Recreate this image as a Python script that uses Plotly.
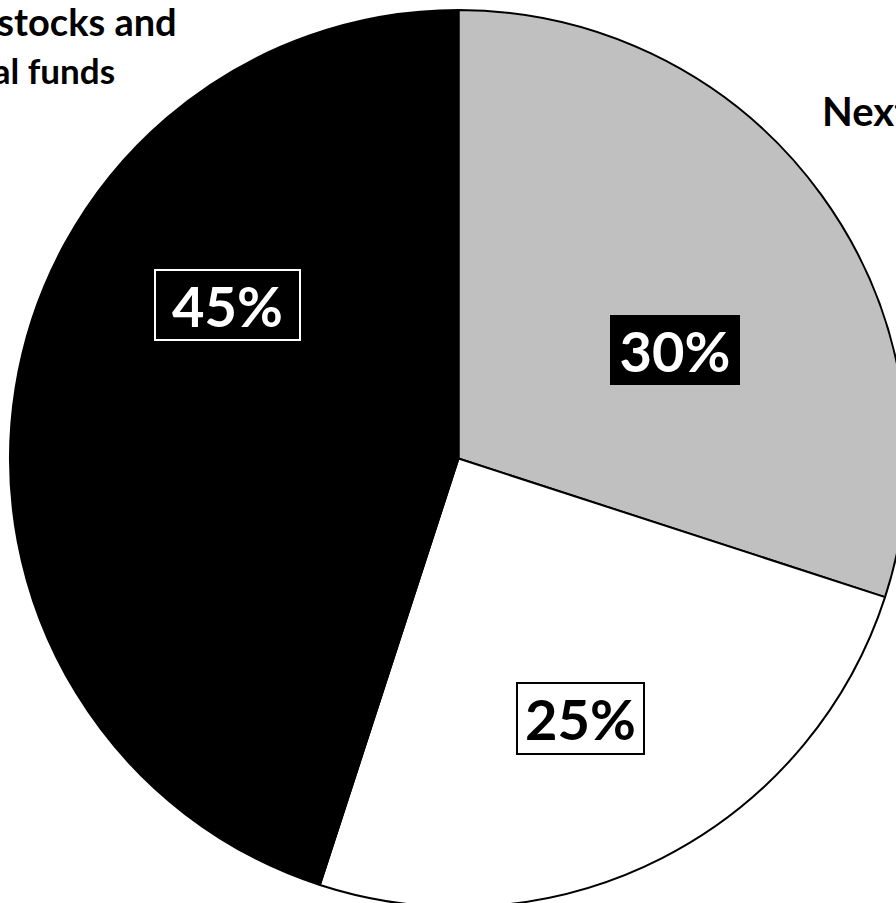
import plotly.graph_objects as go

# Portfolio split
labels = ["Next year", "Other", "Individual stocks and mutual funds"]
values = [30, 25, 45]
colors = ["#c0c0c0", "#ffffff", "#000000"]

W, H = 917, 917
ML, MT = 10, 10
PW, PH = W - 2 * ML, H - 2 * MT

FONT = "Lato, 'Open Sans', sans-serif"


def px(x):
    return (x - ML) / PW


def py(y):
    return 1 - (y - MT) / PH


fig = go.Figure(
    go.Pie(
        labels=labels,
        values=values,
        sort=False,
        direction="clockwise",
        rotation=0,
        marker=dict(colors=colors, line=dict(color="#000000", width=2)),
        textinfo="none",
        hoverinfo="skip",
        showlegend=False,
    )
)

# value boxes: (value index, centre x, centre y, box w, box h, text colour, fill, border)
boxes = [
    (2, 227.5, 305, 143, 68, "#ffffff", "#000000", "#ffffff"),
    (0, 675, 350, 126, 66, "#ffffff", "#000000", "#000000"),
    (1, 580.5, 718.5, 125, 69, "#000000", "#ffffff", "#000000"),
]
annotations = []
for i, cx, cy, bw, bh, tc, bg, bc in boxes:
    annotations.append(
        dict(
            text=f"{values[i]}%",
            x=px(cx), y=py(cy), xref="paper", yref="paper",
            xanchor="center", yanchor="middle",
            width=bw, height=bh, borderpad=0,
            bgcolor=bg, bordercolor=bc, borderwidth=2,
            font=dict(family=FONT, size=56, color=tc, weight="bold"),
            showarrow=False,
        )
    )

# category labels
annotations += [
    dict(text="Individual stocks and", x=px(179), y=py(21), xref="paper", yref="paper",
         xanchor="right", yanchor="middle", showarrow=False,
         font=dict(family=FONT, size=38, color="#000000", weight="bold")),
    dict(text="mutual funds", x=px(117), y=py(70), xref="paper", yref="paper",
         xanchor="right", yanchor="middle", showarrow=False,
         font=dict(family=FONT, size=35, color="#000000", weight="bold")),
    dict(text="Next year", x=px(820), y=py(111), xref="paper", yref="paper",
         xanchor="left", yanchor="middle", showarrow=False,
         font=dict(family=FONT, size=40, color="#000000", weight="bold")),
]

fig.update_layout(
    width=W, height=H,
    margin=dict(l=ML, r=ML, t=MT, b=MT),
    paper_bgcolor="#ffffff",
    plot_bgcolor="#ffffff",
    annotations=annotations,
)

fig.write_html(
    "out.html",
    post_script="document.documentElement.style.overflow='hidden';"
                "document.body.style.overflow='hidden';document.body.style.margin='0';",
)
